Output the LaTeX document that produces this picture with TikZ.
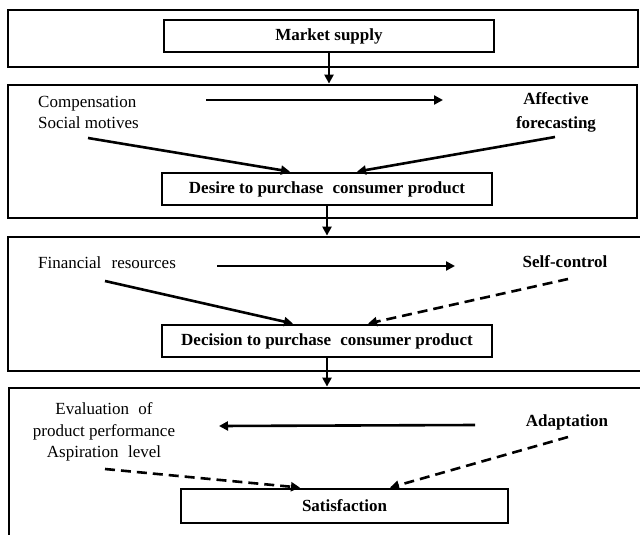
\documentclass[tikz,border=0pt]{standalone}
\usepackage{fontspec}
\setmainfont{Liberation Serif}
\usetikzlibrary{arrows.meta,calc}
\begin{document}
\begin{tikzpicture}[x=1pt,y=-1pt,
  outerbox/.style={draw,line width=2.8pt,inner sep=0pt},
  stagebox/.style={draw,line width=2.8pt,inner sep=0pt,fill=white,
    font=\fontsize{17}{20}\selectfont\bfseries},
  lbl/.style={inner sep=0pt,font=\fontsize{17}{21.5}\selectfont},
  blbl/.style={inner sep=0pt,font=\fontsize{17}{24}\selectfont\bfseries,align=center},
  con/.style={line width=2.6pt,-{Triangle[length=9pt,width=9pt]}},
  dcon/.style={con,dash pattern=on 10pt off 6pt}]
\useasboundingbox (0,0) rectangle (640,535);
\clip (0,0) rectangle (640,535);
\fill[white] (0,0) rectangle (640,535);
% outer frames
\node[outerbox,minimum width=630pt,minimum height=57pt] (o1) at (323,38.5) {};
\node[outerbox,minimum width=629pt,minimum height=133pt] (o2) at (322.5,151.5) {};
\node[outerbox,minimum width=652pt,minimum height=134pt] (o3) at (334,304) {};
\node[outerbox,minimum width=652pt,minimum height=180pt] (o4) at (335,478) {};
% stage boxes
\node[stagebox,minimum width=330pt,minimum height=32pt] (market) at (329,36) {Market supply};
\node[stagebox,minimum width=330pt,minimum height=32pt] (desire) at (327,189) {Desire to purchase\hspace{0.3em} consumer product};
\node[stagebox,minimum width=330pt,minimum height=32pt] (decision) at (327,341) {Decision to purchase\hspace{0.3em} consumer product};
\node[stagebox,minimum width=327pt,minimum height=34pt] (satis) at (344.5,506) {Satisfaction};
% labels
\node[lbl,anchor=west,align=left] (comp) at (38,112.5) {Compensation\\Social motives};
\node[blbl] (affect) at (556,112) {Affective\\forecasting};
\node[lbl,anchor=west] (fin) at (38,263) {Financial\hspace{0.35em} resources};
\node[blbl] (self) at (565,262) {Self-control};
\node[lbl,align=center] (evalu) at (104,432) {Evaluation\hspace{0.3em} of\\product performance\\Aspiration\hspace{0.3em} level};
\node[blbl] (adapt) at (567,422) {Adaptation};
% connector end points
\coordinate (h1a) at (206,100);  \coordinate (h1b) at (443,100);
\coordinate (h2a) at (217,266);  \coordinate (h2b) at (455,266);
\coordinate (h3a) at (475,425);  \coordinate (h3b) at (219,426);
\coordinate (compS) at (88,138);  \coordinate (affS) at (555,137);
\coordinate (finS) at (105,281);  \coordinate (selfS) at (568,279);
\coordinate (aspS) at (105,469);  \coordinate (adS) at (568,437);
% vertical flow
\draw[con] (market.south) -- (market.south |- o2.north);
\draw[con] (desire.south) -- (desire.south |- o3.north);
\draw[con] (decision.south) -- (decision.south |- o4.north);
% horizontal arrows
\draw[con] (h1a) -- (h1b);
\draw[con] (h2a) -- (h2b);
\draw[con] (h3a) -- (h3b);
% diagonal arrows
\draw[con] (compS) -- ($(desire.north)+(-37,0)$);
\draw[con] (affS) -- ($(desire.north)+(30,0)$);
\draw[con] (finS) -- ($(decision.north)+(-34,0)$);
\draw[dcon] (selfS) -- ($(decision.north)+(41,0)$);
\draw[dcon] (aspS) -- ($(satis.north)+(-44.5,0)$);
\draw[dcon] (adS) -- ($(satis.north)+(45.5,0)$);
\end{tikzpicture}
\end{document}
